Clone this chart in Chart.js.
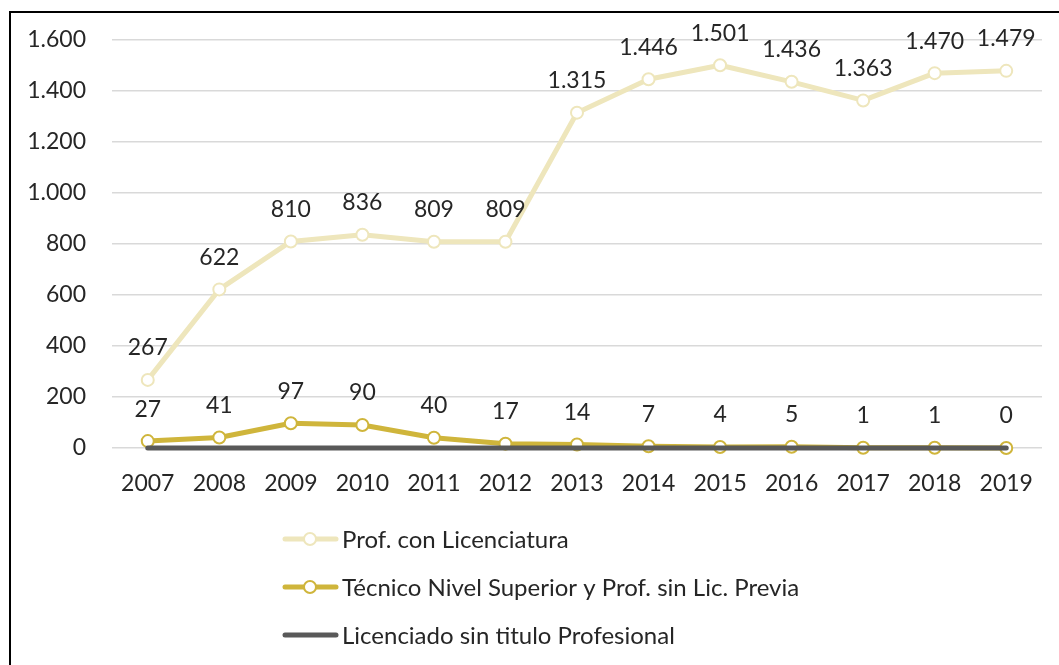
<!DOCTYPE html>
<html>
<head>
<meta charset="utf-8">
<script src="https://cdn.jsdelivr.net/npm/chart.js@4/dist/chart.umd.min.js"></script>
<style>
  html, body { margin: 0; padding: 0; background: #fff; width: 1059px; height: 665px; overflow: hidden; }
  #frame { position: absolute; left: 9px; top: 11px; width: 1100px; height: 700px; border: 2px solid #000; box-sizing: border-box; }
  #wrap { position: absolute; left: 0; top: 0; width: 1059px; height: 665px; }
</style>
</head>
<body>
<div id="frame"></div>
<div id="wrap"><canvas id="c" width="1059" height="665"></canvas></div>
<script>
const years = ['2007','2008','2009','2010','2011','2012','2013','2014','2015','2016','2017','2018','2019'];
const profConLicenciatura = [267, 622, 810, 836, 809, 809, 1315, 1446, 1501, 1436, 1363, 1470, 1479];
const tecnicoNivelSuperior = [27, 41, 97, 90, 40, 17, 14, 7, 4, 5, 1, 1, 0];
const licenciadoSinTitulo = [0, 0, 0, 0, 0, 0, 0, 0, 0, 0, 0, 0, 0];
const seriesNames = ['Prof. con Licenciatura', 'Técnico Nivel Superior y Prof. sin Lic. Previa', 'Licenciado sin titulo Profesional'];
const yTicks = [0, 200, 400, 600, 800, 1000, 1200, 1400, 1600];

const FONT = 'Lato';
const TEXT = '#262626';
function fmt(v) { return String(v).replace(/\B(?=(\d{3})+(?!\d))/g, '.'); }

const labelPlugin = {
  id: 'valueLabels',
  afterDatasetsDraw(chart) {
    const ctx = chart.ctx;
    ctx.save();
    ctx.font = '23px ' + FONT;
    ctx.fillStyle = TEXT;
    ctx.textAlign = 'center';
    ctx.textBaseline = 'middle';
    [0, 1].forEach(di => {
      const meta = chart.getDatasetMeta(di);
      const data = chart.data.datasets[di].data;
      meta.data.forEach((pt, i) => {
        ctx.fillText(fmt(data[i]), pt.x, pt.y - 32);
      });
    });
    ctx.restore();
  }
};

const legendPlugin = {
  id: 'vLegend',
  afterDraw(chart) {
    const ctx = chart.ctx;
    ctx.save();
    chart.data.datasets.forEach((ds, i) => {
      const y = 539 + 48 * i;
      ctx.strokeStyle = ds.borderColor;
      ctx.lineWidth = 5;
      ctx.lineCap = 'round';
      ctx.beginPath();
      ctx.moveTo(285, y);
      ctx.lineTo(336, y);
      ctx.stroke();
      if (ds.pointRadius > 0) {
        ctx.beginPath();
        ctx.arc(310, y, 6, 0, Math.PI * 2);
        ctx.fillStyle = '#fff';
        ctx.fill();
        ctx.lineWidth = 2;
        ctx.strokeStyle = ds.pointBorderColor;
        ctx.stroke();
      }
      ctx.font = '24px ' + FONT;
      ctx.fillStyle = TEXT;
      ctx.textAlign = 'left';
      ctx.textBaseline = 'middle';
      ctx.fillText(ds.label, 342, y + 1);
    });
    ctx.restore();
  }
};

const LIGHT = '#EEE6BC';
const GOLD = '#CFB53B';
const GRAY = '#595959';

new Chart(document.getElementById('c'), {
  type: 'line',
  data: {
    labels: years,
    datasets: [
      {
        label: seriesNames[0], data: profConLicenciatura, order: 2,
        borderColor: LIGHT, borderWidth: 5, borderCapStyle: 'round', borderJoinStyle: 'round',
        pointRadius: 6, pointBorderWidth: 2, pointBackgroundColor: '#fff', pointBorderColor: LIGHT,
        tension: 0, clip: false
      },
      {
        label: seriesNames[1], data: tecnicoNivelSuperior, order: 1,
        borderColor: GOLD, borderWidth: 5, borderCapStyle: 'round', borderJoinStyle: 'round',
        pointRadius: 6, pointBorderWidth: 2, pointBackgroundColor: '#fff', pointBorderColor: GOLD,
        tension: 0, clip: false
      },
      {
        label: seriesNames[2], data: licenciadoSinTitulo, order: 0,
        borderColor: GRAY, borderWidth: 5, borderCapStyle: 'round', borderJoinStyle: 'round',
        pointRadius: 0, pointBorderColor: GRAY,
        tension: 0, clip: false
      }
    ]
  },
  options: {
    responsive: false,
    animation: false,
    devicePixelRatio: 1,
    layout: { padding: { left: 0, right: 17, top: 40, bottom: 140 } },
    plugins: { legend: { display: false }, tooltip: { enabled: false } },
    scales: {
      x: {
        offset: true,
        grid: { display: false, drawTicks: false },
        border: { display: false },
        ticks: { color: TEXT, font: { family: FONT, size: 23 }, padding: 22, maxRotation: 0, autoSkip: false },
        afterFit(scale) { scale.height = 665 - 448 - 140; }
      },
      y: {
        min: 0, max: 1600,
        afterBuildTicks(scale) { scale.ticks = yTicks.map(v => ({ value: v })); },
        grid: { color: '#D9D9D9', lineWidth: 1.5, drawTicks: false },
        border: { display: false },
        ticks: { color: TEXT, font: { family: FONT, size: 23 }, padding: 26, callback: v => fmt(v) },
        afterFit(scale) { scale.width = 112; }
      }
    }
  },
  plugins: [labelPlugin, legendPlugin]
});
</script>
</body>
</html>
